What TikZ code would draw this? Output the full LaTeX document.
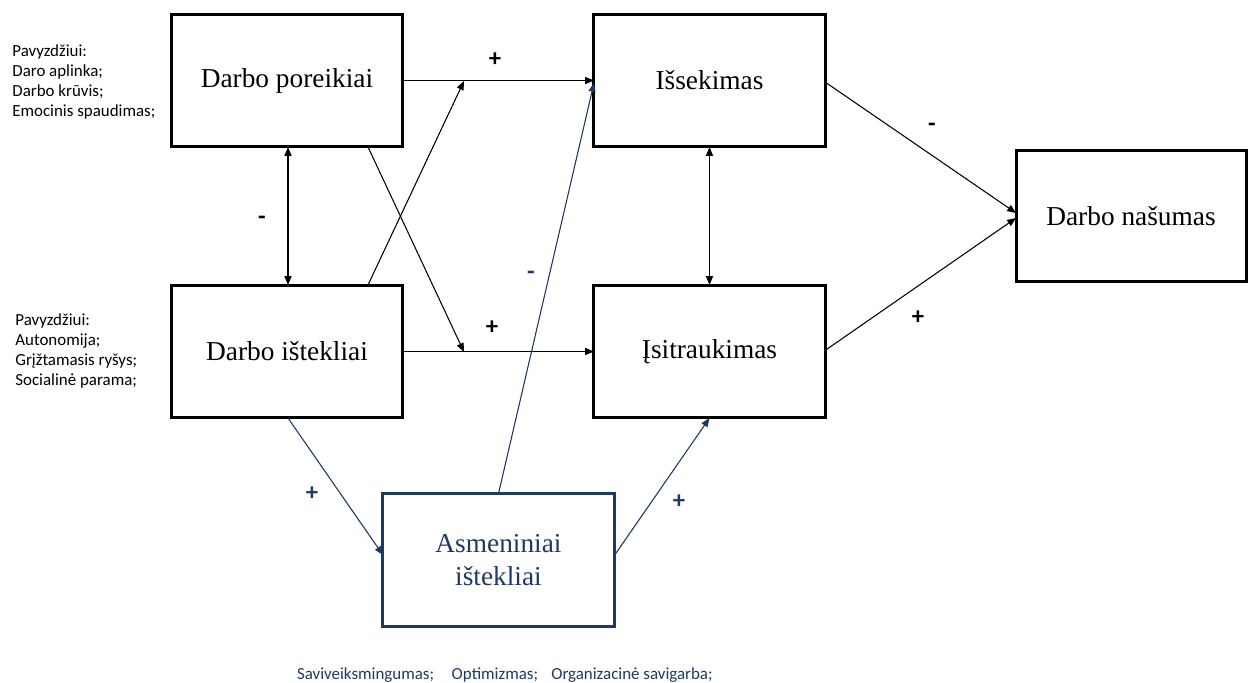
\documentclass[tikz,border=0pt]{standalone}
\usepackage{fontspec}
\setmainfont{Liberation Serif}
\newfontfamily\calibri{Carlito}
\usetikzlibrary{arrows.meta,calc}
\definecolor{navy}{HTML}{1F3864}
\begin{document}
\begin{tikzpicture}[x=0.567pt,y=-0.567pt,
  box/.style={draw, line width=1.7pt, minimum width=131pt, minimum height=75.4pt,
    inner sep=0pt, outer sep=0pt, font=\fontsize{15.5}{18.7}\selectfont, align=center},
  tip/.tip={Triangle[length=5pt,width=4pt]},
  arr/.style={-tip, line width=0.6pt},
  dbl/.style={tip-tip, line width=0.6pt},
  sign/.style={font=\calibri\bfseries\fontsize{14}{14}\selectfont, inner sep=0pt},
  note/.style={font=\calibri\fontsize{9.6}{11.4}\selectfont, align=left, inner sep=0pt, anchor=west}]
\useasboundingbox (0,0) rectangle (1248,682);

% model boxes
\node[box] (dp) at (287,80.5) {Darbo poreikiai};
\node[box] (is) at (709.5,80.5) {Išsekimas};
\node[box] (di) at (287,351.5) {Darbo ištekliai};
\node[box] (it) at (709.5,351.5) {Įsitraukimas};
\node[box, minimum width=130.4pt, minimum height=74.8pt] (dn) at (1131,216) {Darbo našumas};
\node[box, draw=navy, text=navy] (as) at (498.5,560) {Asmeniniai\\ištekliai};

% examples
\node[note] (ex1) at (12,82) {Pavyzdžiui:\\Daro aplinka;\\Darbo krūvis;\\Emocinis spaudimas;};
\node[note] (ex2) at (15,351) {Pavyzdžiui:\\Autonomija;\\Grįžtamasis ryšys;\\Socialinė parama;};
\node[font=\calibri\fontsize{9.6}{11.4}\selectfont, text=navy, inner sep=0pt, anchor=base east] (ex3) at (713,679)
  {Saviveiksmingumas;\hspace{10pt}Optimizmas;\hspace{7.5pt}Organizacinė savigarba;};

% points where the crossing paths meet the horizontal arrows
\coordinate (m1) at (464,81);
\coordinate (m2) at (464,352);

% black connectors
\draw[arr] (dp.east) -- (is.west);
\draw[arr] (di.east) -- (it.west);
\draw[arr] ($(di.north)+(81,0)$) -- (m1);
\draw[arr] ($(dp.south)+(81,0)$) -- (m2);
\draw[dbl] ($(dp.south)+(1,0)$) -- ($(di.north)+(1,0)$);
\draw[dbl] (is.south) -- (it.north);
\draw[arr] ($(is.east)+(0,1.5)$) -- ($(dn.west)+(0,-3)$);
\draw[arr] ($(it.east)+(0,-1)$) -- ($(dn.west)+(0,2)$);

% personal resources connectors
\draw[arr, draw=navy, fill=navy] ($(di.south)+(1,0)$) -- ($(as.west)+(0,-5)$);
\draw[arr, draw=navy, fill=navy] (as.north) -- ($(is.west)+(0,2.5)$);
\draw[arr, draw=navy, fill=navy] ($(as.east)+(0,-4)$) -- (it.south);

% signs
\node[sign] (s1) at (495,60) {+};
\node[sign] (s2) at (492,328) {+};
\node[sign] (s3) at (262,220) {-};
\node[sign] (s4) at (932,127) {-};
\node[sign] (s5) at (918,318) {+};
\node[sign, text=navy] (s6) at (531,275) {-};
\node[sign, text=navy] (s7) at (312,494) {+};
\node[sign, text=navy] (s8) at (679,502) {+};
\end{tikzpicture}
\end{document}
